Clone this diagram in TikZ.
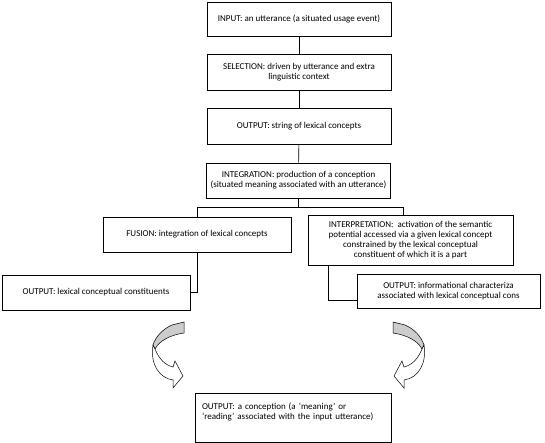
\documentclass[tikz,border=0pt]{standalone}
\usepackage{fontspec}
\setmainfont{Carlito}
\usetikzlibrary{positioning}

\tikzset{
  stage/.style={draw, line width=0.6pt, align=center, inner sep=2pt,
    font=\fontsize{9}{10}\selectfont},
  link/.style={line width=0.6pt},
  bentfill/.style={line width=0.5pt, fill=gray!40},
}

% one bent block arrow, drawn in picture units
\newcommand\bentarrow{%
  \filldraw[bentfill] (172,325) -- (184,322) -- (184,333)
    .. controls (170,335) and (159,341) .. (155,349)
    -- (153,345) .. controls (156,336) and (163,329) .. (172,325) -- cycle;
  \filldraw[link, line width=0.5pt, fill=white] (155,349)
    .. controls (159,359) and (165,365) .. (173,367)
    -- (175,361) -- (183,376) -- (173,388) -- (173,380)
    .. controls (159,378) and (150,364) .. (153,345) -- cycle;
}

\begin{document}
\begin{tikzpicture}[x=1pt, y=-1pt]
        \useasboundingbox (0,0) rectangle (545,443);

        % Main column
        \node[stage, minimum width=184pt, minimum height=34pt] (input) at (299,19) {INPUT: an utterance (a situated usage event)};
        \node[stage, minimum width=184pt, minimum height=36pt] (selection) at (299,72) {SELECTION: driven by utterance and extra\\linguistic context};
        \node[stage, minimum width=184pt, minimum height=36pt] (strout) at (299,126) {OUTPUT: string of lexical concepts};
        \node[stage, minimum width=184pt, minimum height=35pt] (integration) at (298.5,180.5) {INTEGRATION: production of a conception\\(situated meaning associated with an utterance)};

        % Two branches
        \node[stage, minimum width=188pt, minimum height=35pt] (fusion) at (197,234.5) {FUSION: integration of lexical concepts};
        \node[stage, minimum width=205pt, minimum height=50pt] (interp) at (410.5,240) {INTERPRETATION:\ \ activation of the semantic\\potential accessed via a given lexical concept\\constrained by the lexical conceptual\\constituent of which it is a part};
        \node[stage, minimum width=188pt, minimum height=35pt] (lexout) at (96,292.5) {OUTPUT: lexical conceptual constituents};
        \node[stage, minimum width=183pt, minimum height=34pt] (infout) at (448.5,291) {OUTPUT: informational characteriza\\associated with lexical conceptual cons};

        % Result
        \node[stage, align=left, text width=182pt, minimum width=196pt, minimum height=49pt, text depth=23pt] (final) at (293,417.5) {OUTPUT: a conception (a `meaning' or\\`reading' associated with the input utterance)};

        % Connections
        \draw[link] (input) -- (selection);
        \draw[link] (selection) -- (strout);
        \draw[link] (strout) -- (integration);
        \draw[link] (integration.south) -- ++(0,9) coordinate (split);
        \draw[link] (fusion.north) |- (split) -| ([xshift=-7.5pt]interp.north);
        \draw[link] (fusion.south) |- (lexout.east);
        \draw[link] ([xshift=-82.5pt]interp.south) |- ([yshift=-9pt]infout.west);

        % Bent arrows into the result
        \bentarrow
        \begin{scope}[xshift=577pt, xscale=-1]
            \bentarrow
        \end{scope}
    \end{tikzpicture}
\end{document}
